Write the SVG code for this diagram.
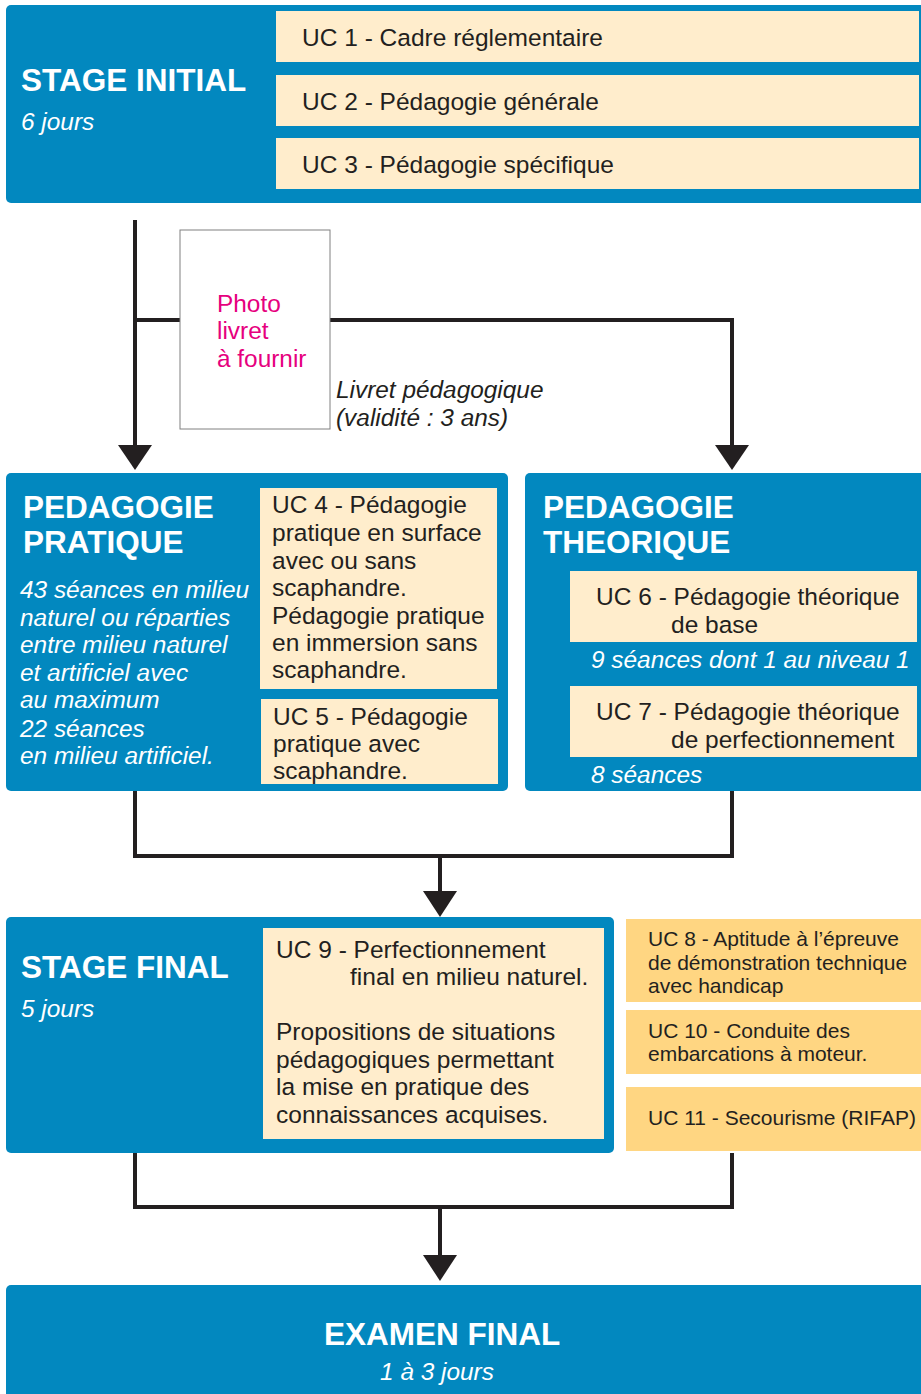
<svg xmlns="http://www.w3.org/2000/svg" width="921" height="1394" viewBox="0 0 921 1394">
<style>
.blue{fill:#0288BF}
.cream{fill:#FFEDCC}
.orange{fill:#FFD682}
.title{font-family:"Liberation Sans",Arial,sans-serif;font-weight:bold;font-size:31.5px;fill:#FFFFFF}
.sub{font-family:"Liberation Sans",Arial,sans-serif;font-style:italic;font-size:24.4px;fill:#FFFFFF}
.uc{font-family:"Liberation Sans",Arial,sans-serif;font-size:24.5px;fill:#231F20}
.ucs{font-family:"Liberation Sans",Arial,sans-serif;font-size:21px;fill:#231F20}
.note{font-family:"Liberation Sans",Arial,sans-serif;font-style:italic;font-size:24.4px;fill:#231F20}
.pink{font-family:"Liberation Sans",Arial,sans-serif;font-size:24.4px;fill:#E6007E}
.line{fill:none;stroke:#231F20;stroke-width:4}
.head{fill:#231F20}
</style>

<g id="connectors">
<path class="line" d="M135,220 V445"/>
<path class="head" d="M118,445 H152 L135,470 Z"/>
<path class="line" d="M135,320 H180"/>
<path class="line" d="M330,320 H732 V445"/>
<path class="head" d="M715,445 H749 L732,470 Z"/>
<path class="line" d="M135,791 V856 H732 V791"/>
<path class="line" d="M440,856 V892"/>
<path class="head" d="M423,891 H457 L440,917 Z"/>
<path class="line" d="M135,1153 V1207 H732 V1153"/>
<path class="line" d="M440,1207 V1256"/>
<path class="head" d="M423,1255 H457 L440,1281 Z"/>
</g>

<g id="stage-initial">
<rect class="blue" x="6" y="5" width="925" height="198" rx="5"/>
<text class="title" x="21" y="91">STAGE INITIAL</text>
<text class="sub" x="21" y="130">6 jours</text>
</g>
<g id="uc1">
<rect class="cream" x="276" y="11" width="643" height="51"/>
<text class="uc" x="302" y="46">UC 1 - Cadre réglementaire</text>
</g>
<g id="uc2">
<rect class="cream" x="276" y="75" width="643" height="51"/>
<text class="uc" x="302" y="110">UC 2 - Pédagogie générale</text>
</g>
<g id="uc3">
<rect class="cream" x="276" y="138" width="643" height="51"/>
<text class="uc" x="302" y="173">UC 3 - Pédagogie spécifique</text>
</g>

<g id="photo">
<rect x="180" y="230" width="150" height="199" fill="#FFFFFF" stroke="#808080" stroke-width="1"/>
<text class="pink" x="217" y="312">Photo</text>
<text class="pink" x="217" y="339">livret</text>
<text class="pink" x="217" y="367">à fournir</text>
</g>
<g id="livret-label">
<text class="note" x="336" y="398">Livret pédagogique</text>
<text class="note" x="336" y="426">(validité : 3 ans)</text>
</g>

<g id="pedagogie-pratique">
<rect class="blue" x="6" y="473" width="502" height="318" rx="5"/>
<text class="title" x="23" y="518">PEDAGOGIE</text>
<text class="title" x="23" y="553">PRATIQUE</text>
<text class="sub" x="20" y="598">43 séances en milieu</text>
<text class="sub" x="20" y="626">naturel ou réparties</text>
<text class="sub" x="20" y="653">entre milieu naturel</text>
<text class="sub" x="20" y="681">et artificiel avec</text>
<text class="sub" x="20" y="708">au maximum</text>
<text class="sub" x="20" y="737">22 séances</text>
<text class="sub" x="20" y="764">en milieu artificiel.</text>
</g>
<g id="uc4">
<rect class="cream" x="260" y="488" width="237" height="201"/>
<text class="uc" x="272" y="513">UC 4 - Pédagogie</text>
<text class="uc" x="272" y="541">pratique en surface</text>
<text class="uc" x="272" y="569">avec ou sans</text>
<text class="uc" x="272" y="596">scaphandre.</text>
<text class="uc" x="272" y="624">Pédagogie pratique</text>
<text class="uc" x="272" y="651">en immersion sans</text>
<text class="uc" x="272" y="678">scaphandre.</text>
</g>
<g id="uc5">
<rect class="cream" x="261" y="699" width="237" height="85"/>
<text class="uc" x="273" y="725">UC 5 - Pédagogie</text>
<text class="uc" x="273" y="752">pratique avec</text>
<text class="uc" x="273" y="779">scaphandre.</text>
</g>

<g id="pedagogie-theorique">
<rect class="blue" x="525" y="473" width="406" height="318" rx="5"/>
<text class="title" x="543" y="518">PEDAGOGIE</text>
<text class="title" x="543" y="553">THEORIQUE</text>
<text class="sub" x="591" y="668">9 séances dont 1 au niveau 1</text>
<text class="sub" x="591" y="783">8 séances</text>
</g>
<g id="uc6">
<rect class="cream" x="570" y="571" width="347" height="71"/>
<text class="uc" x="596" y="605">UC 6 - Pédagogie théorique</text>
<text class="uc" x="671" y="633">de base</text>
</g>
<g id="uc7">
<rect class="cream" x="570" y="686" width="347" height="71"/>
<text class="uc" x="596" y="720">UC 7 - Pédagogie théorique</text>
<text class="uc" x="671" y="748">de perfectionnement</text>
</g>

<g id="stage-final">
<rect class="blue" x="6" y="917" width="608" height="236" rx="5"/>
<text class="title" x="21" y="978">STAGE FINAL</text>
<text class="sub" x="21" y="1017">5 jours</text>
</g>
<g id="uc9">
<rect class="cream" x="263" y="928" width="341" height="211"/>
<text class="uc" x="276" y="958">UC 9 - Perfectionnement</text>
<text class="uc" x="350" y="985">final en milieu naturel.</text>
<text class="uc" x="276" y="1040">Propositions de situations</text>
<text class="uc" x="276" y="1068">pédagogiques permettant</text>
<text class="uc" x="276" y="1095">la mise en pratique des</text>
<text class="uc" x="276" y="1123">connaissances acquises.</text>
</g>

<g id="uc8">
<rect class="orange" x="626" y="919" width="300" height="83"/>
<text class="ucs" x="648" y="946">UC 8 - Aptitude à l’épreuve</text>
<text class="ucs" x="648" y="970">de démonstration technique</text>
<text class="ucs" x="648" y="993">avec handicap</text>
</g>
<g id="uc10">
<rect class="orange" x="626" y="1010" width="300" height="64"/>
<text class="ucs" x="648" y="1038">UC 10 - Conduite des</text>
<text class="ucs" x="648" y="1061">embarcations à moteur.</text>
</g>
<g id="uc11">
<rect class="orange" x="626" y="1087" width="300" height="64"/>
<text class="ucs" x="648" y="1125">UC 11 - Secourisme (RIFAP)</text>
</g>

<g id="examen-final">
<rect class="blue" x="6" y="1285" width="925" height="120" rx="5"/>
<text class="title" x="442" y="1345" text-anchor="middle">EXAMEN FINAL</text>
<text class="sub" x="437" y="1380" text-anchor="middle">1 à 3 jours</text>
</g>
</svg>
